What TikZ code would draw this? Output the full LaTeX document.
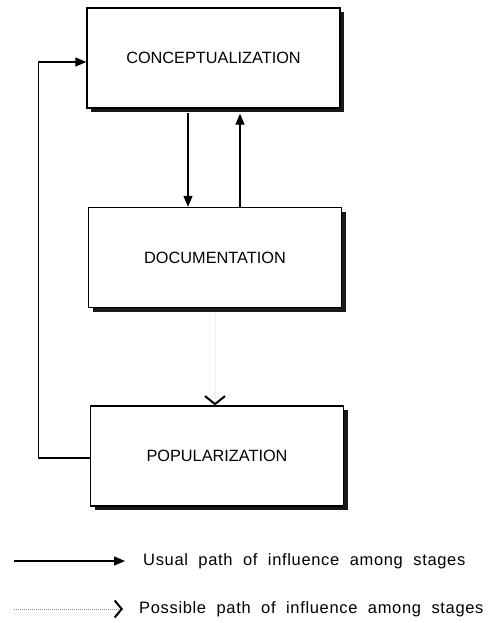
\documentclass[tikz,border=0pt]{standalone}
\usepackage{fontspec}
\setmainfont{Liberation Sans}
\newfontfamily\legendfont[LetterSpace=4,WordSpace=2]{Liberation Sans}
\usetikzlibrary{arrows.meta,shadows,calc}
\definecolor{ShadowClr}{rgb}{0.1,0.1,0.1}
\definecolor{DotClr}{rgb}{0.55,0.55,0.55}
\definecolor{FaintClr}{rgb}{0.88,0.88,0.88}

\begin{document}
\begin{tikzpicture}[x=1pt,y=-1pt,
  stage/.style={draw,line width=1.3pt,fill=white,minimum width=253pt,minimum height=100pt,
    font=\fontsize{16.3}{18}\selectfont,
    drop shadow={shadow xshift=4pt,shadow yshift=-4pt,fill=ShadowClr,opacity=1}},
  usual/.style={line width=1.2pt,-{Triangle[length=11pt,width=9pt]}},
  possible/.style={densely dotted,line width=1pt,draw=DotClr,
    -{Straight Barb[length=8pt,width=20pt,line width=2pt,color=black]}},
  legend/.style={anchor=west,inner sep=0pt,font=\legendfont\fontsize{16.5}{18}\selectfont}]
\useasboundingbox (0,0) rectangle (496,623);

\node[stage] (conc) at (213.5,58) {CONCEPTUALIZATION};
\node[stage] (doc) at (215,257.5) {DOCUMENTATION};
\node[stage] (pop) at (217,456) {POPULARIZATION};

\draw[usual,shorten <=4pt] ([xshift=-25.5pt]conc.south) -- ([xshift=-25.5pt]conc.south |- doc.north);
\draw[usual,shorten >=5pt] ([xshift=25pt]doc.north) -- ([xshift=25pt]doc.north |- conc.south);
\draw[usual] ($(pop.west)+(0,2)$) -- ++(-51,0) |- ($(conc.west)+(0,4)$);
\draw[possible,draw=FaintClr,shorten <=4pt] (doc.south) -- (doc.south |- pop.north);

\node[legend] (usualtxt) at (143,561) {Usual path of influence among stages};
\node[legend] (posstxt) at (139,609) {Possible path of influence among stages};
\coordinate (u0) at (14,561);
\coordinate (p0) at (14,609);
\draw[usual] (u0) -- ([xshift=-18pt]usualtxt.west);
\draw[possible,-{Straight Barb[length=7pt,width=17pt,line width=2pt,color=black]}] (p0) -- ([xshift=-16pt]posstxt.west);

\end{tikzpicture}
\end{document}
